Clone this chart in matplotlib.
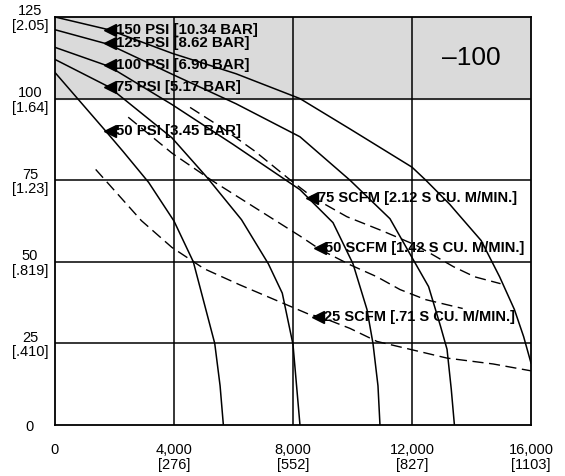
import matplotlib
matplotlib.use('Agg')
import matplotlib.pyplot as plt

plt.rcParams['font.family'] = ['Liberation Sans', 'DejaVu Sans']

# Pressure curves (solid), x = flow, y = head
psi150_x = [0, 1810, 3930, 6090, 8235, 9916, 12000, 12465, 13271, 13488, 14326, 14946, 15442, 15752, 16000]
psi150_y = [125, 121.1, 113.9, 107.6, 100, 90.7, 79, 75, 67.6, 65.3, 56.5, 45.4, 35.4, 27.1, 19]

psi125_x = [0, 1810, 3930, 6090, 8235, 9916, 11260, 11933, 12558, 12961, 13178, 13320, 13426]
psi125_y = [121.1, 116.6, 107.5, 98.4, 88.3, 75, 63.2, 52.4, 42.4, 30.2, 23.2, 11, 0]

psi100_x = [0, 1810, 3930, 5982, 8235, 9345, 10017, 10487, 10689, 10857, 10924]
psi100_y = [115.7, 109.9, 98.2, 86.0, 72.1, 62.0, 49.4, 35.4, 25, 12, 0]

psi75_x = [0, 1810, 3930, 5117, 6270, 7171, 7640, 8000, 8235]
psi75_y = [112, 103.6, 88.0, 75.8, 62.9, 49.4, 40.4, 24.7, 0]

psi50_x = [0, 1710, 2290, 3150, 4000, 4650, 5370, 5550, 5660]
psi50_y = [108, 90, 83.8, 74.3, 62.5, 50, 25, 12, 0]

# Air consumption curves (dashed)
scfm75_x = [4541, 5622, 6703, 8000, 8672, 9815, 11025, 12155, 13395, 14109, 14977]
scfm75_y = [97.3, 91, 84, 74.4, 69.7, 63.8, 59.4, 55, 48.5, 45.4, 43.3]

scfm50_x = [2462, 3932, 5261, 8235, 8908, 9916, 10824, 11597, 12465, 13705]
scfm50_y = [94.3, 83.3, 75, 57.9, 53.8, 49.1, 45.4, 41.5, 38.4, 35.7]

scfm25_x = [1368, 2906, 3932, 5009, 6198, 8571, 8908, 9916, 10824, 11933, 13178, 14729, 16000]
scfm25_y = [78.3, 62.6, 54.4, 47.9, 43, 33.8, 33.2, 29.6, 25.6, 23.2, 20.5, 18.7, 16.6]

psi_labels = ['150 PSI [10.34 BAR]', '125 PSI [8.62 BAR]', '100 PSI [6.90 BAR]',
              '75 PSI [5.17 BAR]', '50 PSI [3.45 BAR]']
psi_label_y = [121.1, 116.9, 110.2, 103.6, 90]
psi_label_x = 1850

scfm_labels = ['75 SCFM [2.12 S CU. M/MIN.]', '50 SCFM [1.42 S CU. M/MIN.]',
               '25 SCFM [.71 S CU. M/MIN.]']
scfm_label_x = [8650, 8900, 8850]
scfm_label_y = [69.7, 54.3, 33.2]

x_ticks = [0, 4000, 8000, 12000, 16000]
x_ticklabels = ['0', '4,000\n[276]', '8,000\n[552]', '12,000\n[827]', '16,000\n[1103]']
y_ticks = [0, 25, 50, 75, 100, 125]
y_ticklabels = ['0', '25\n[.410]', '50\n[.819]', '75\n[1.23]', '100\n[1.64]', '125\n[2.05]']

fig = plt.figure(figsize=(5.65, 4.76), dpi=100)
ax = fig.add_axes([0.0973, 0.1071, 0.8425, 0.8572])

# shaded band at the top
ax.axhspan(100, 125, color='#dadada', zorder=0)
ax.text(14000, 112.5, '\u2013100', fontsize=19, ha='center', va='center')

for gx in x_ticks[1:-1]:
    ax.axvline(gx, color='black', lw=1.1, zorder=1)
for gy in y_ticks[1:-1]:
    ax.axhline(gy, color='black', lw=1.1, zorder=1)

for xs, ys in [(psi150_x, psi150_y), (psi125_x, psi125_y), (psi100_x, psi100_y),
               (psi75_x, psi75_y), (psi50_x, psi50_y)]:
    ax.plot(xs, ys, color='black', lw=1.1, zorder=2)

for xs, ys in [(scfm75_x, scfm75_y), (scfm50_x, scfm50_y), (scfm25_x, scfm25_y)]:
    ax.plot(xs, ys, color='black', lw=1.0, dashes=(8, 4), zorder=2)

# labels with left pointing arrows
for txt, ly in zip(psi_labels, psi_label_y):
    ax.plot(psi_label_x, ly, marker='<', ms=9, color='black', zorder=3)
    ax.annotate(txt, (psi_label_x, ly), xytext=(4, 0), textcoords='offset points',
                fontsize=10.8, fontweight='bold', va='center', ha='left')

for txt, lx, ly in zip(scfm_labels, scfm_label_x, scfm_label_y):
    ax.plot(lx, ly, marker='<', ms=9, color='black', zorder=3)
    ax.annotate(txt, (lx, ly), xytext=(4, 0), textcoords='offset points',
                fontsize=10.5, fontweight='bold', va='center', ha='left')

ax.set_xlim(0, 16000)
ax.set_ylim(0, 125)
ax.set_xticks(x_ticks)
ax.set_xticklabels(x_ticklabels, fontsize=10.5, linespacing=1.05)
ax.set_yticks(y_ticks)
ax.set_yticklabels(y_ticklabels, fontsize=10.5, linespacing=1.05)
for lab in ax.get_yticklabels():
    lab.set_horizontalalignment('center')
    lab.set_multialignment('center')
for lab in ax.get_xticklabels():
    lab.set_multialignment('center')
ax.tick_params(axis='both', length=0)
ax.tick_params(axis='y', pad=18)
ax.tick_params(axis='x', pad=13)

for sp in ax.spines.values():
    sp.set_linewidth(1.3)
    sp.set_color('black')

fig.savefig('out.png', dpi=100)
